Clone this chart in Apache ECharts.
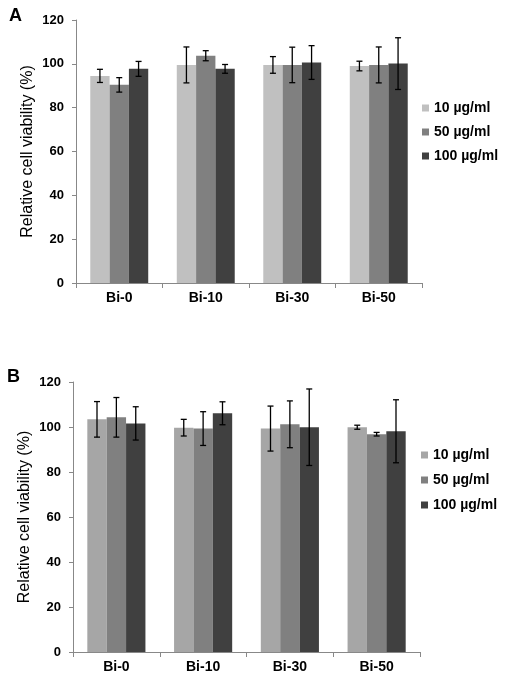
<!DOCTYPE html>
<html><head><meta charset="utf-8">
<script src="https://cdn.jsdelivr.net/npm/echarts@6/dist/echarts.min.js"></script>
<style>html,body{margin:0;padding:0;background:#fff}#c{width:512px;height:682px}</style>
</head><body><div id="c"></div>
<script>
const categories = ['Bi-0', 'Bi-10', 'Bi-30', 'Bi-50'];
const seriesNames = ['10 µg/ml', '50 µg/ml', '100 µg/ml'];
const yTicks = [0, 20, 40, 60, 80, 100, 120];
// Panel A means and errors (per concentration, per category)
const meanA10 = [94.5, 99.5, 99.5, 99.0];
const meanA50 = [90.4, 103.7, 99.5, 99.5];
const meanA100 = [97.7, 97.7, 100.6, 100.1];
const errA10 = [3.0, 8.2, 3.8, 2.2];
const errA50 = [3.3, 2.3, 8.1, 8.2];
const errA100 = [3.4, 2.0, 7.7, 11.8];
// Panel B
const meanB10 = [103.4, 99.7, 99.3, 99.9];
const meanB50 = [104.3, 99.3, 101.2, 96.8];
const meanB100 = [101.6, 106.1, 99.9, 98.1];
const errB10 = [7.9, 3.7, 10.0, 0.9];
const errB50 = [8.8, 7.5, 10.4, 0.8];
const errB100 = [7.4, 5.1, 17.0, 14.0];

const colorsA = ['#c0c0c0', '#808080', '#404040'];
const colorsB = ['#a6a6a6', '#808080', '#404040'];
const GAP = 0.33;
const FONT = 'Liberation Sans, Arial, sans-serif';

const chart = echarts.init(document.getElementById('c'));

function axesFor(gi, gap) {
  const x = {
    type: 'category', gridIndex: gi, data: categories,
    axisLine: { lineStyle: { color: '#888', width: 1 } },
    axisTick: { show: true, length: 5, lineStyle: { color: '#888' } },
    axisLabel: { color: '#000', fontWeight: 'bold', fontSize: 14, fontFamily: FONT, margin: 8 }
  };
  const y = {
    type: 'value', gridIndex: gi, min: 0, max: 120, interval: 20,
    axisLine: { show: true, lineStyle: { color: '#888', width: 1 } },
    axisTick: { show: true, length: 4, lineStyle: { color: '#888' } },
    splitLine: { show: false },
    axisLabel: { color: '#000', fontWeight: 'bold', fontSize: 13, fontFamily: FONT, margin: 12,
      formatter: v => yTicks.includes(v) ? String(v) : '' },
    name: 'Relative cell viability (%)', nameLocation: 'middle', nameGap: gap,
    nameMoveOverlap: false,
    nameTextStyle: { color: '#000', fontSize: 16, fontFamily: FONT }
  };
  return [x, y];
}
const [xA, yA] = axesFor(0, 40);
const [xB, yB] = axesFor(1, 40);

function errSeries(gi, k, means, errs) {
  return {
    type: 'custom', xAxisIndex: gi, yAxisIndex: gi, silent: true, z: 10,
    data: means.map((m, i) => [i, m, errs[i]]),
    renderItem: function (params, api) {
      const i = api.value(0), m = api.value(1), e = api.value(2);
      const c = api.coord([i, m]);
      const cw = api.size([1, 0])[0];
      const bw = cw * (1 - GAP) / 3;
      const x = c[0] + (k - 1) * bw;
      const hi = api.coord([i, m + e])[1];
      const lo = api.coord([i, m - e])[1];
      const cap = 3;
      const st = { stroke: '#000', lineWidth: 1.3 };
      return { type: 'group', children: [
        { type: 'line', shape: { x1: x, y1: hi, x2: x, y2: lo }, style: st },
        { type: 'line', shape: { x1: x - cap, y1: hi, x2: x + cap, y2: hi }, style: st },
        { type: 'line', shape: { x1: x - cap, y1: lo, x2: x + cap, y2: lo }, style: st }
      ]};
    }
  };
}
function barSeries(gi, k, means, colors) {
  return {
    type: 'bar', name: seriesNames[k], xAxisIndex: gi, yAxisIndex: gi,
    data: means, barGap: '0%', barCategoryGap: (GAP * 100) + '%',
    itemStyle: { color: colors[k] }
  };
}

const meansA = [meanA10, meanA50, meanA100], errsA = [errA10, errA50, errA100];
const meansB = [meanB10, meanB50, meanB100], errsB = [errB10, errB50, errB100];
const series = [];
for (let k = 0; k < 3; k++) series.push(barSeries(0, k, meansA[k], colorsA));
for (let k = 0; k < 3; k++) series.push(barSeries(1, k, meansB[k], colorsB));
for (let k = 0; k < 3; k++) series.push(errSeries(0, k, meansA[k], errsA[k]));
for (let k = 0; k < 3; k++) series.push(errSeries(1, k, meansB[k], errsB[k]));

const legendText = { color: '#000', fontWeight: 'bold', fontSize: 14, fontFamily: FONT };
chart.setOption({
  animation: false,
  backgroundColor: '#fff',
  grid: [
    { left: 76, top: 20, right: 90, height: 263 },
    { left: 73, top: 382, right: 92, height: 270 }
  ],
  xAxis: [xA, xB],
  yAxis: [yA, yB],
  legend: [
    { orient: 'vertical', left: 417, top: 96, itemWidth: 7, itemHeight: 7, itemGap: 10,
      icon: 'rect', textStyle: legendText, selectedMode: false,
      data: seriesNames.map((n, k) => ({ name: n, itemStyle: { color: colorsA[k] } })) },
    { orient: 'vertical', left: 416, top: 443, itemWidth: 7, itemHeight: 7, itemGap: 11,
      icon: 'rect', textStyle: legendText, selectedMode: false,
      data: seriesNames.map((n, k) => ({ name: n, itemStyle: { color: colorsB[k] } })) }
  ],
  graphic: [
    { type: 'text', left: 9, top: 7, style: { text: 'A', font: 'bold 18px ' + FONT, fill: '#000' } },
    { type: 'text', left: 7, top: 368, style: { text: 'B', font: 'bold 18px ' + FONT, fill: '#000' } }
  ],
  series: series
});
</script></body></html>
